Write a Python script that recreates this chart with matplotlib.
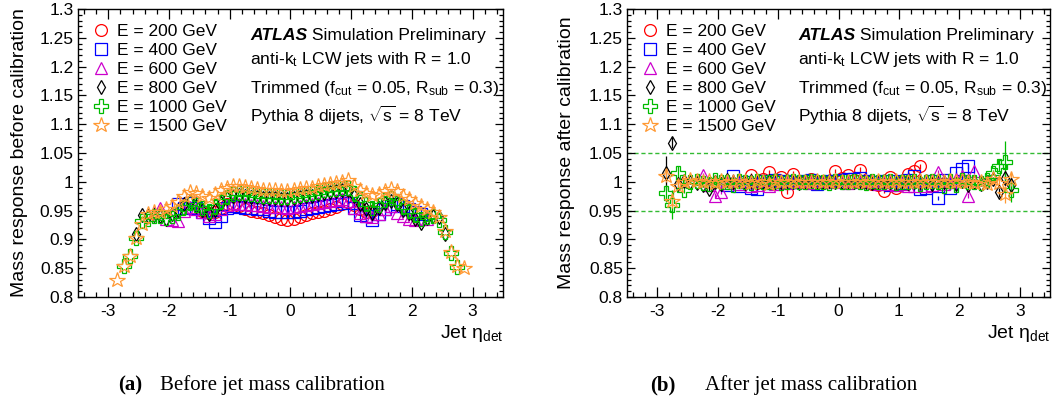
import numpy as np
import matplotlib
matplotlib.use('Agg')
import matplotlib.pyplot as plt
from matplotlib.lines import Line2D
from matplotlib.ticker import MultipleLocator, FuncFormatter

plt.rcParams['font.family'] = ['Liberation Sans', 'DejaVu Sans']
plt.rcParams['mathtext.fontset'] = 'custom'
plt.rcParams['mathtext.rm'] = 'Liberation Sans'
plt.rcParams['mathtext.it'] = 'Liberation Sans:italic'

# eta bins are 0.1 wide, first bin centre of each series given below
labels = ['E = 200 GeV', 'E = 400 GeV', 'E = 600 GeV', 'E = 800 GeV', 'E = 1000 GeV', 'E = 1500 GeV']
eta_start = [-1.45, -1.85, -2.25, -2.85, -2.85, -2.85]
eta_start_before = [-1.45, -1.85, -2.25, -2.55, -2.75, -2.85]

# ---- before calibration ----
before_200 = [0.950, 0.945, 0.948, 0.955, 0.962, 0.962, 0.958, 0.953, 0.950, 0.947,
              0.945, 0.942, 0.938, 0.935, 0.934, 0.936, 0.939, 0.942, 0.945, 0.947,
              0.950, 0.953, 0.957, 0.961, 0.965, 0.960, 0.952, 0.948, 0.950]
before_400 = [0.962, 0.955, 0.964, 0.955, 0.948, 0.937, 0.930, 0.940, 0.955, 0.958,
              0.957, 0.955, 0.954, 0.953, 0.952, 0.950, 0.948, 0.947, 0.947, 0.948,
              0.950, 0.952, 0.954, 0.956, 0.958, 0.960, 0.962, 0.966, 0.964, 0.955,
              0.942, 0.940, 0.934, 0.944, 0.953, 0.958, 0.961, 0.958, 0.952, 0.947,
              0.944]
before_600 = [0.945, 0.955, 0.935, 0.934, 0.932, 0.950, 0.956, 0.952, 0.947, 0.940,
              0.944, 0.953, 0.960, 0.963, 0.962, 0.961, 0.960, 0.959, 0.958, 0.957,
              0.956, 0.956, 0.955, 0.956, 0.958, 0.960, 0.961, 0.963, 0.965, 0.967,
              0.969, 0.970, 0.966, 0.955, 0.945, 0.940, 0.939, 0.944, 0.953, 0.958,
              0.945, 0.940, 0.936, 0.934, 0.936, 0.935]
before_800 = [0.910, 0.943, 0.940, 0.942, 0.941, 0.936, 0.944, 0.951, 0.961, 0.967,
              0.958, 0.951, 0.944, 0.951, 0.963, 0.971, 0.975, 0.977, 0.976, 0.974,
              0.973, 0.972, 0.971, 0.971, 0.970, 0.970, 0.971, 0.973, 0.975, 0.976,
              0.978, 0.981, 0.983, 0.984, 0.986, 0.985, 0.975, 0.962, 0.952, 0.946,
              0.954, 0.963, 0.967, 0.961, 0.951, 0.945, 0.936, 0.928, 0.937, 0.940,
              0.939, 0.910]
before_1000 = [0.853, 0.871, 0.902, 0.932, 0.936, 0.940, 0.940, 0.937, 0.941, 0.946,
               0.957, 0.964, 0.960, 0.955, 0.950, 0.956, 0.966, 0.974, 0.979, 0.981,
               0.980, 0.978, 0.977, 0.976, 0.975, 0.975, 0.974, 0.974, 0.975, 0.977,
               0.979, 0.980, 0.982, 0.985, 0.987, 0.988, 0.990, 0.990, 0.981, 0.970,
               0.961, 0.955, 0.959, 0.968, 0.971, 0.966, 0.956, 0.949, 0.942, 0.936,
               0.939, 0.941, 0.934, 0.912, 0.877, 0.852]
before_1500 = [0.830, 0.853, 0.872, 0.903, 0.927, 0.944, 0.947, 0.948, 0.952, 0.958,
               0.965, 0.975, 0.982, 0.980, 0.975, 0.972, 0.978, 0.986, 0.990, 0.993,
               0.993, 0.991, 0.989, 0.988, 0.986, 0.985, 0.985, 0.984, 0.984, 0.985,
               0.987, 0.989, 0.990, 0.992, 0.995, 0.997, 0.998, 1.000, 1.003, 0.993,
               0.986, 0.980, 0.977, 0.978, 0.984, 0.987, 0.984, 0.976, 0.970, 0.964,
               0.958, 0.952, 0.948, 0.938, 0.914, 0.878, 0.853, 0.851]

# ---- after calibration ----
after_200 = [1.012, 0.998, 1.004, 1.017, 1.003, 1.008, 0.983, 1.014, 1.000, 0.999,
             1.004, 1.001, 1.000, 1.002, 1.019, 1.006, 1.012, 1.003, 1.021, 1.001,
             0.996, 0.994, 0.984, 1.009, 0.989, 1.002, 1.013, 1.019, 1.027]
after_400 = [0.995, 1.010, 0.993, 1.000, 0.989, 0.988, 1.002, 0.998, 1.003, 1.000,
             1.002, 0.999, 1.000, 1.001, 1.003, 0.996, 1.000, 1.002, 1.001, 1.003,
             1.005, 1.004, 1.006, 1.001, 1.000, 0.999, 1.002, 0.995, 1.001, 0.998,
             1.003, 1.010, 0.988, 0.990, 1.002, 0.972, 1.003, 0.990, 1.015, 1.022,
             1.027]
after_600 = [1.012, 0.994, 0.976, 0.983, 0.998, 1.002, 0.996, 1.000, 0.992, 0.995,
             1.003, 0.993, 0.997, 1.000, 0.998, 1.001, 0.999, 1.000, 0.998, 1.002,
             1.000, 0.999, 1.001, 1.000, 0.998, 1.001, 1.000, 0.999, 1.001, 0.997,
             0.999, 0.996, 0.995, 0.997, 0.993, 0.992, 1.002, 0.993, 0.995, 1.017,
             0.996, 1.000, 1.005, 1.010, 0.976, 1.018]
after_800 = [1.015, 1.068, 0.997, 1.002, 1.000, 0.998, 0.995, 0.988, 1.000, 0.997,
             1.003, 0.999, 1.001, 0.998, 1.002, 1.000, 0.999, 1.001, 1.000, 0.999,
             1.001, 1.000, 0.998, 1.000, 1.001, 0.999, 1.000, 1.001, 0.999, 1.000,
             1.000, 0.999, 1.001, 1.000, 0.998, 1.000, 1.001, 0.999, 1.000, 1.001,
             0.998, 1.000, 0.999, 1.001, 0.997, 1.000, 0.999, 1.002, 0.996, 1.001,
             0.994, 1.000, 0.997, 1.000, 1.005, 0.982, 1.006, 0.994]
after_1000 = [0.980, 0.960, 1.015, 0.985, 1.000, 1.002, 0.998, 0.996, 1.003, 1.000,
              0.999, 0.994, 1.001, 1.000, 0.998, 1.002, 1.000, 0.999, 1.001, 0.998,
              1.000, 1.001, 0.999, 1.000, 1.002, 0.999, 1.000, 0.998, 1.001, 1.000,
              0.999, 1.001, 1.000, 0.998, 1.001, 1.000, 0.999, 1.002, 0.998, 1.000,
              0.999, 1.001, 0.997, 1.000, 1.002, 0.999, 0.993, 1.001, 0.995, 1.003,
              1.000, 0.999, 0.998, 1.003, 1.016, 1.028, 1.035, 0.985]
after_1500 = [1.010, 0.967, 0.993, 1.000, 1.003, 1.001, 0.999, 1.002, 0.998, 1.001,
              1.000, 0.999, 1.002, 1.000, 0.998, 1.001, 1.000, 0.996, 1.001, 0.999,
              1.000, 1.001, 0.999, 1.000, 0.999, 1.001, 1.000, 0.999, 1.001, 1.000,
              0.999, 1.000, 1.001, 0.999, 1.000, 1.001, 1.000, 0.999, 1.001, 1.000,
              0.999, 1.000, 1.001, 0.999, 1.000, 1.002, 0.999, 1.001, 1.000, 1.002,
              0.999, 0.998, 1.000, 0.996, 1.004, 0.998, 0.978, 1.005]

# stat. errors after calibration: small in the centre, larger in the first/last 3 bins
err_centre = 0.004
edge_err_800 = ([0.030, 0.010, 0.008], [0.008, 0.012, 0.015])
edge_err_1000 = ([0.015, 0.025, 0.012], [0.010, 0.035, 0.020])
edge_err_1500 = ([0.010, 0.012, 0.008], [0.008, 0.015, 0.012])

colors = ['#ff0000', '#0000ff', '#cc00cc', '#000000', '#00bb00', '#ff9933']
markers = ['o', 's', '^', 'd', 'P', '*']
msizes = [8.5, 8, 9, 7.5, 9.5, 11.5]

before = [before_200, before_400, before_600, before_800, before_1000, before_1500]
after = [after_200, after_400, after_600, after_800, after_1000, after_1500]


def errors(n, edge=None):
    e = np.full(n, err_centre)
    if edge is not None:
        e[:3] = edge[0]
        e[-3:] = edge[1]
    return e


fig = plt.figure(figsize=(10.54, 4.05), dpi=100)
axl = fig.add_axes([0.074, 0.2667, 0.4032, 0.7111])
axr = fig.add_axes([0.5949, 0.2667, 0.4013, 0.7111])

# left panel
for i in range(6):
    x = eta_start_before[i] + 0.1 * np.arange(len(before[i]))
    axl.plot(x, before[i], ls='none', marker=markers[i], ms=msizes[i],
             mfc='none', mec=colors[i], mew=0.9)

# right panel
edges = [None, None, None, edge_err_800, edge_err_1000, edge_err_1500]
for i in range(6):
    x = eta_start[i] + 0.1 * np.arange(len(after[i]))
    axr.errorbar(x, after[i], yerr=errors(len(after[i]), edges[i]), fmt=markers[i],
                 ms=msizes[i], mfc='none', mec=colors[i], mew=0.9,
                 ecolor=colors[i], elinewidth=0.9, capsize=0)
for yl in [0.95, 1.05]:
    axr.axhline(yl, color='#33bb33', ls=(0, (3, 2)), lw=1.0, zorder=0)

fmt = FuncFormatter(lambda v, p: '%g' % round(v, 3))
ylabels = ['Mass response before calibration', 'Mass response after calibration']
for ax, yl, lx in [(axl, ylabels[0], -0.118), (axr, ylabels[1], -0.123)]:
    ax.set_xlim(-3.5, 3.5)
    ax.set_ylim(0.8, 1.3)
    ax.xaxis.set_major_locator(MultipleLocator(1))
    ax.xaxis.set_minor_locator(MultipleLocator(0.2))
    ax.yaxis.set_major_locator(MultipleLocator(0.05))
    ax.yaxis.set_minor_locator(MultipleLocator(0.01))
    ax.xaxis.set_major_formatter(fmt)
    ax.yaxis.set_major_formatter(fmt)
    ax.tick_params(which='both', direction='in', top=True, right=True, labelsize=12.5, width=0.9)
    ax.tick_params(axis='x', which='major', length=7, pad=5)
    ax.tick_params(axis='x', which='minor', length=3.5)
    ax.tick_params(axis='y', which='major', length=5.5, pad=3)
    ax.tick_params(axis='y', which='minor', length=2.8)
    for s in ax.spines.values():
        s.set_linewidth(1.0)
    ax.set_ylabel(yl, fontsize=14)
    ax.yaxis.set_label_coords(lx, 0.5)
    ax.text(1.0, -0.142, 'Jet η$_{\\mathrm{det}}$', transform=ax.transAxes,
            ha='right', va='baseline', fontsize=14)

    handles = [Line2D([], [], ls='none', marker=markers[i], ms=msizes[i], mfc='none',
                      mec=colors[i], mew=0.9) for i in range(6)]
    ax.legend(handles, labels, loc='upper left', bbox_to_anchor=(0.034, 0.947),
              frameon=False, fontsize=12.5, borderpad=0, borderaxespad=0,
              handlelength=1.0, handletextpad=0.42, labelspacing=0.22)

    t = ax.text(0.405, 0.892, 'ATLAS', transform=ax.transAxes, fontsize=12.6,
                fontweight='bold', fontstyle='italic', va='baseline')
    ax.annotate(' Simulation Preliminary', xy=(1, 0), xycoords=t, va='bottom',
                fontsize=12.6)
    ax.text(0.405, 0.809, 'anti-k$_{\\mathrm{t}}$ LCW jets with R = 1.0',
            transform=ax.transAxes, fontsize=12.6, va='baseline')
    ax.text(0.405, 0.708, 'Trimmed (f$_{\\mathrm{cut}}$ = 0.05, R$_{\\mathrm{sub}}$ = 0.3)',
            transform=ax.transAxes, fontsize=12.6, va='baseline')
    ax.text(0.405, 0.608, 'Pythia 8 dijets, $\\sqrt{\\mathrm{s}}$ = 8 TeV',
            transform=ax.transAxes, fontsize=12.6, va='baseline')

serif = ['Liberation Serif', 'DejaVu Serif']
fig.text(0.112, 0.037, '(a)', family=serif, fontweight='bold', fontsize=15)
fig.text(0.152, 0.037, 'Before jet mass calibration', family=serif, fontsize=15)
fig.text(0.617, 0.037, '(b)', family=serif, fontweight='bold', fontsize=15)
fig.text(0.669, 0.037, 'After jet mass calibration', family=serif, fontsize=15)

fig.savefig('out.png', dpi=100)
